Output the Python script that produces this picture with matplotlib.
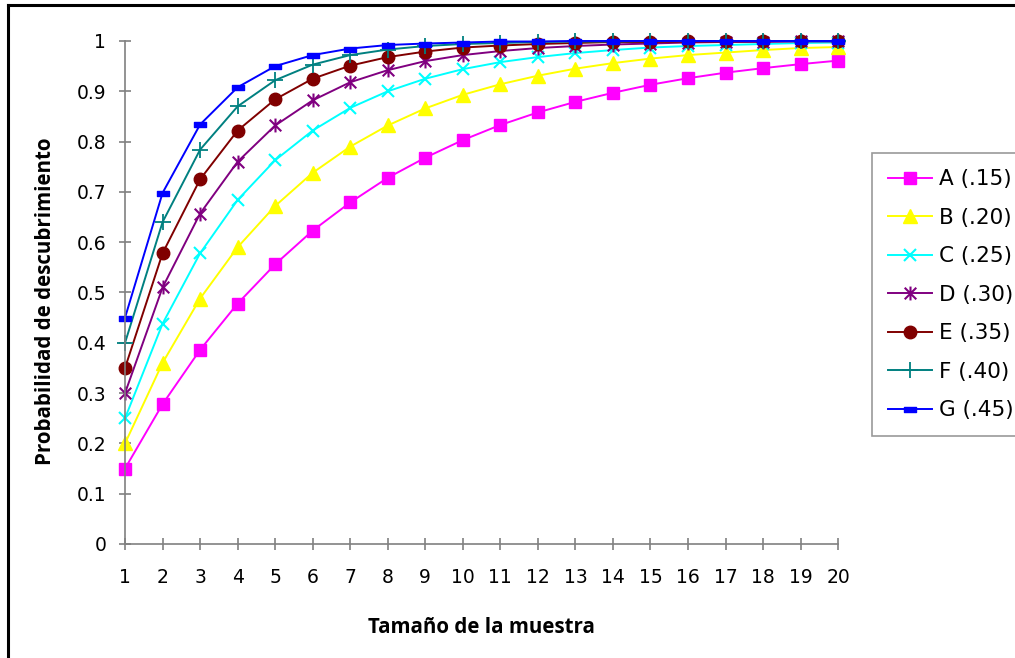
import numpy as np
import matplotlib
matplotlib.use("Agg")
import matplotlib.pyplot as plt
from matplotlib.path import Path
from matplotlib.lines import Line2D

# sample size and discovery probability per series
n = list(range(1, 21))
labels = ["A (.15)", "B (.20)", "C (.25)", "D (.30)", "E (.35)", "F (.40)", "G (.45)"]
a_vals = [.150, .278, .386, .478, .556, .623, .679, .728, .768, .803,
          .833, .858, .879, .897, .913, .926, .937, .946, .954, .961]
b_vals = [.200, .360, .488, .590, .672, .738, .790, .832, .866, .893,
          .914, .931, .945, .956, .965, .972, .977, .982, .986, .988]
c_vals = [.250, .438, .578, .684, .763, .822, .867, .900, .925, .944,
          .958, .968, .976, .982, .987, .990, .992, .994, .996, .997]
d_vals = [.300, .510, .657, .760, .832, .882, .918, .942, .960, .972,
          .980, .986, .990, .993, .995, .997, .998, .998, .999, .999]
e_vals = [.350, .578, .725, .822, .884, .925, .951, .968, .979, .987,
          .991, .994, .996, .998, .998, .999, .999, 1.0, 1.0, 1.0]
f_vals = [.400, .640, .784, .870, .922, .953, .972, .983, .990, .994,
          .996, .998, .999, .999, 1.0, 1.0, 1.0, 1.0, 1.0, 1.0]
g_vals = [.450, .698, .834, .908, .950, .972, .985, .992, .995, .997,
          .999, .999, 1.0, 1.0, 1.0, 1.0, 1.0, 1.0, 1.0, 1.0]

# Excel-like markers
star = Path([(-1, -1), (1, 1), (-1, 1), (1, -1), (0, -1.2), (0, 1.2)],
            [Path.MOVETO, Path.LINETO, Path.MOVETO, Path.LINETO, Path.MOVETO, Path.LINETO])
dash = Path([(-1, -0.45), (1, -0.45), (1, 0.45), (-1, 0.45), (-1, -0.45)],
            [Path.MOVETO, Path.LINETO, Path.LINETO, Path.LINETO, Path.CLOSEPOLY])

styles = [
    dict(color="#FF00FF", marker="s", ms=9),
    dict(color="#FFFF00", marker="^", ms=10),
    dict(color="#00FFFF", marker="x", ms=9, mew=1.5),
    dict(color="#800080", marker=star, ms=10, mew=1.5, mfc="none"),
    dict(color="#800000", marker="o", ms=9),
    dict(color="#008080", marker="+", ms=11, mew=1.3),
    dict(color="#0000FF", marker=dash, ms=8),
]
series = [a_vals, b_vals, c_vals, d_vals, e_vals, f_vals, g_vals]

plt.rcParams["font.family"] = ["DejaVu Sans"]

fig = plt.figure(figsize=(10.15, 6.58), dpi=100)
ax = fig.add_axes([0.1232, 0.1733, 0.7025, 0.7644])

for vals, lab, st in zip(series, labels, styles):
    ax.plot(n, vals, lw=1.4, label=lab, clip_on=False, **st)

ax.set_xlim(1, 20)
ax.set_ylim(0, 1)
ax.set_xticks(n)
ax.set_yticks(np.round(np.arange(0, 1.01, 0.1), 1))
ax.set_yticklabels(["0", "0.1", "0.2", "0.3", "0.4", "0.5", "0.6", "0.7", "0.8", "0.9", "1"])
for s in ["top", "right"]:
    ax.spines[s].set_visible(False)
for s in ["left", "bottom"]:
    ax.spines[s].set_color("#808080")
    ax.spines[s].set_linewidth(1.2)
ax.tick_params(axis="both", direction="inout", length=9, width=1.2, color="#808080",
               labelsize=13.5, labelcolor="black")
ax.tick_params(axis="x", pad=13)
ax.tick_params(axis="y", pad=9)

xl = ax.set_xlabel("Tamaño de la muestra", fontsize=14.8, fontweight="bold",
                   family="Open Sans")
yl = ax.set_ylabel("Probabilidad de descubrimiento", fontsize=14.8, fontweight="bold",
                   family="Open Sans")
xl.set_va("center")
yl.set_va("center")
ax.xaxis.set_label_coords(0.5, -0.167)
ax.yaxis.set_label_coords(-0.111, 0.483)

leg = fig.legend(loc="upper left", bbox_to_anchor=(0.859, 0.7675), fontsize=15.5,
                 frameon=True, fancybox=False, edgecolor="#808080",
                 handlelength=2.05, labelspacing=0.86, borderpad=0.75,
                 handletextpad=0.3, borderaxespad=0)
leg.get_frame().set_linewidth(1.2)

# outer frame (left and top edges visible)
fig.add_artist(Line2D([8 / 1015, 8 / 1015], [0, 1 - 5 / 658], color="black", lw=2.2,
                      transform=fig.transFigure))
fig.add_artist(Line2D([8 / 1015, 1], [1 - 5 / 658, 1 - 5 / 658], color="black", lw=2.2,
                      transform=fig.transFigure))

fig.savefig("out.png", dpi=100)
